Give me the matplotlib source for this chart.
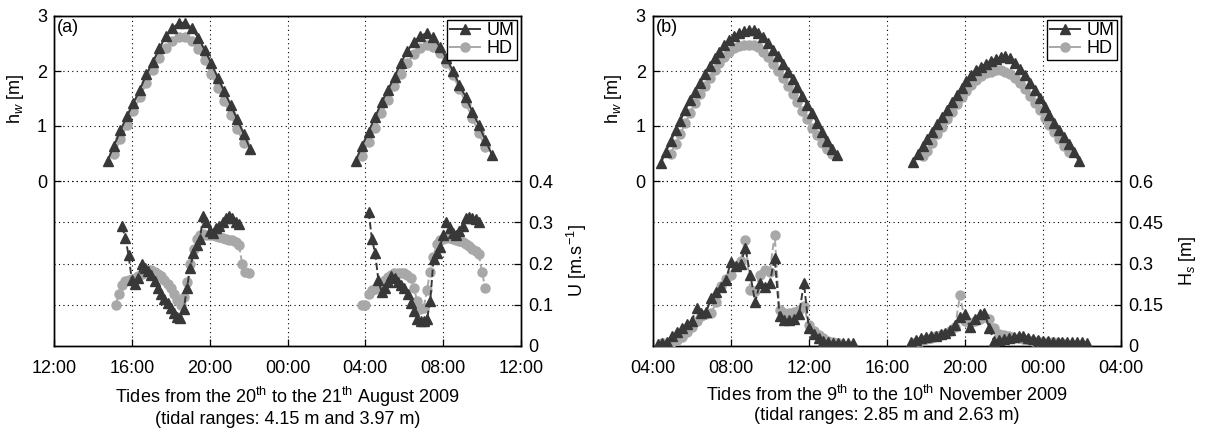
import numpy as np
import matplotlib
matplotlib.use("Agg")
import matplotlib.pyplot as plt

plt.rcParams['font.family'] = ['Liberation Sans', 'DejaVu Sans']
plt.rcParams['mathtext.fontset'] = 'custom'
plt.rcParams['mathtext.rm'] = 'Liberation Sans'
plt.rcParams['mathtext.it'] = 'Liberation Sans:italic'
plt.rcParams['font.size'] = 13

# ---------------- tick labels ----------------
tick_hours = [0, 4, 8, 12, 16, 20, 24]
ticklabels_a = ["12:00", "16:00", "20:00", "00:00", "04:00", "08:00", "12:00"]
ticklabels_b = ["04:00", "08:00", "12:00", "16:00", "20:00", "00:00", "04:00"]
right_ticks_a = [0, 0.1, 0.2, 0.3, 0.4]
right_labels_a = ["0", "0.1", "0.2", "0.3", "0.4"]
right_ticks_b = [0, 0.15, 0.3, 0.45, 0.6]
right_labels_b = ["0", "0.15", "0.3", "0.45", "0.6"]

# ---------------- panel (a): water level hw [m], 20-min samples ----------------
# (start hour after 12:00 on 20 Aug, sample interval in minutes)
a_um_hw1_start, a_hw_step = 2.75, 20
a_um_hw1 = [0.37, 0.64, 0.92, 1.18, 1.42, 1.66, 1.94, 2.17, 2.41, 2.64, 2.78, 2.87,
            2.88, 2.78, 2.60, 2.38, 2.14, 1.88, 1.63, 1.38, 1.12, 0.86, 0.58]
a_hd_hw1_start = 3.08
a_hd_hw1 = [0.50, 0.76, 1.02, 1.28, 1.53, 1.78, 2.02, 2.24, 2.41, 2.54, 2.61, 2.62,
            2.55, 2.40, 2.20, 1.95, 1.70, 1.45, 1.20, 0.95, 0.70]
a_um_hw2_start = 15.5
a_um_hw2 = [0.37, 0.64, 0.90, 1.16, 1.43, 1.66, 1.90, 2.15, 2.37, 2.53, 2.64, 2.69,
            2.61, 2.44, 2.23, 2.00, 1.75, 1.52, 1.26, 1.01, 0.75, 0.48]
a_hd_hw2_start = 15.83
a_hd_hw2 = [0.45, 0.71, 0.97, 1.23, 1.48, 1.72, 1.95, 2.15, 2.31, 2.42, 2.47, 2.44,
            2.33, 2.15, 1.93, 1.68, 1.42, 1.15, 0.88, 0.62]

# ---------------- panel (a): current velocity U [m/s], 10-min samples ----------------
a_u_step = 10
a_um_u1_start = 3.5
a_um_u1 = [0.290, 0.262, 0.220, 0.160, 0.150, 0.165, 0.200, 0.190, 0.182, 0.172,
           0.158, 0.140, 0.125, 0.115, 0.105, 0.092, 0.080, 0.070, 0.068, 0.090,
           0.140, 0.190, 0.225, 0.245, 0.260, 0.315, 0.300, 0.280, 0.275, 0.285,
           0.290, 0.300, 0.310, 0.315, 0.310, 0.300, 0.295]
a_hd_u1_start = 3.17
a_hd_u1 = [0.100, 0.125, 0.148, 0.158, 0.160, 0.162, 0.165, 0.170, 0.175, 0.180,
           0.185, 0.185, 0.180, 0.175, 0.170, 0.160, 0.150, 0.140, 0.125, 0.112,
           0.100, 0.120, 0.155, 0.200, 0.235, 0.260, 0.270, 0.272, 0.270, 0.268,
           0.268, 0.266, 0.265, 0.262, 0.260, 0.258, 0.256, 0.252, 0.245, 0.200,
           0.180, 0.178]
a_um_u2_start = 16.17
a_um_u2 = [0.325, 0.260, 0.225, 0.160, 0.130, 0.140, 0.155, 0.170, 0.165, 0.155,
           0.148, 0.140, 0.125, 0.105, 0.085, 0.065, 0.060, 0.060, 0.065, 0.110,
           0.210, 0.225, 0.240, 0.270, 0.300, 0.285, 0.275, 0.270, 0.280, 0.290,
           0.310, 0.312, 0.310, 0.308, 0.300]
a_hd_u2_start = 15.83
a_hd_u2 = [0.100, 0.100, 0.125, 0.135, 0.138, 0.140, 0.150, 0.160, 0.168, 0.172,
           0.176, 0.178, 0.178, 0.176, 0.172, 0.165, 0.140, 0.110, 0.090, 0.093,
           0.135, 0.180, 0.215, 0.248, 0.257, 0.260, 0.262, 0.262, 0.260, 0.258,
           0.255, 0.252, 0.248, 0.243, 0.236, 0.230, 0.222, 0.180, 0.140]

# ---------------- panel (b): water level hw [m], 15-min samples ----------------
b_step = 15
b_um_hw1_start = 0.42
b_um_hw1 = [0.33, 0.53, 0.72, 0.92, 1.10, 1.30, 1.47, 1.62, 1.78, 1.94, 2.09, 2.24,
            2.34, 2.47, 2.56, 2.63, 2.69, 2.72, 2.74, 2.74, 2.69, 2.61, 2.51, 2.39,
            2.27, 2.12, 1.99, 1.86, 1.71, 1.54, 1.39, 1.23, 1.06, 0.90, 0.72, 0.58,
            0.47]
b_hd_hw1_start = 0.92
b_hd_hw1 = [0.50, 0.68, 0.86, 1.05, 1.24, 1.42, 1.58, 1.73, 1.88, 2.02, 2.14, 2.25,
            2.34, 2.41, 2.45, 2.48, 2.48, 2.47, 2.43, 2.35, 2.25, 2.13, 2.00, 1.87,
            1.73, 1.58, 1.43, 1.27, 1.12, 0.97, 0.83, 0.70, 0.58, 0.50]
b_um_hw2_start = 13.33
b_um_hw2 = [0.34, 0.49, 0.63, 0.76, 0.89, 1.03, 1.16, 1.30, 1.43, 1.56, 1.70, 1.82,
            1.93, 2.02, 2.08, 2.13, 2.19, 2.22, 2.25, 2.27, 2.23, 2.14, 2.03, 1.92,
            1.79, 1.66, 1.51, 1.34, 1.20, 1.06, 0.92, 0.80, 0.68, 0.53, 0.37]
b_hd_hw2_start = 13.83
b_hd_hw2 = [0.45, 0.55, 0.70, 0.85, 0.99, 1.12, 1.26, 1.40, 1.52, 1.64, 1.75, 1.84,
            1.91, 1.96, 1.99, 2.01, 2.01, 1.99, 1.95, 1.88, 1.78, 1.67, 1.55, 1.42,
            1.29, 1.15, 1.02, 0.89, 0.76, 0.64, 0.52]

# ---------------- panel (b): significant wave height Hs [m], 15-min samples ----------------
b_um_hs1_start = 0.25
b_um_hs1 = [0.008, 0.012, 0.015, 0.035, 0.050, 0.065, 0.080, 0.090, 0.140, 0.120,
            0.125, 0.175, 0.195, 0.215, 0.240, 0.305, 0.290, 0.300, 0.355, 0.260,
            0.160, 0.230, 0.215, 0.230, 0.320, 0.110, 0.095, 0.095, 0.100, 0.115,
            0.230, 0.065, 0.045, 0.030, 0.020, 0.015, 0.012, 0.012, 0.012, 0.012,
            0.010]
b_hd_hs1_start = 0.5
b_hd_hs1 = [0.010, 0.012, 0.015, 0.022, 0.032, 0.050, 0.070, 0.090, 0.110, 0.115,
            0.120, 0.160, 0.220, 0.245, 0.260, 0.290, 0.310, 0.385, 0.205, 0.200,
            0.260, 0.275, 0.270, 0.405, 0.130, 0.120, 0.120, 0.125, 0.130, 0.145,
            0.075, 0.055, 0.040, 0.030, 0.020, 0.015, 0.010]
b_um_hs2_start = 13.25
b_um_hs2 = [0.015, 0.022, 0.028, 0.032, 0.035, 0.038, 0.042, 0.048, 0.058, 0.075,
            0.105, 0.115, 0.070, 0.100, 0.115, 0.120, 0.065, 0.018, 0.022, 0.026,
            0.030, 0.033, 0.037, 0.038, 0.030, 0.025, 0.022, 0.020, 0.018, 0.016,
            0.015, 0.015, 0.015, 0.015, 0.015, 0.015, 0.012]
b_hd_hs2_start = 13.5
b_hd_hs2 = [0.015, 0.020, 0.025, 0.030, 0.035, 0.040, 0.045, 0.055, 0.070, 0.185,
            0.090, 0.085, 0.090, 0.100, 0.105, 0.100, 0.065, 0.045, 0.040, 0.035,
            0.030, 0.028, 0.025, 0.022, 0.020, 0.018, 0.016, 0.015, 0.013, 0.012,
            0.010]

xlabel_a = ("Tides from the 20$^{\\mathrm{th}}$ to the 21$^{\\mathrm{th}}$ August 2009\n"
            "(tidal ranges: 4.15 m and 3.97 m)")
xlabel_b = ("Tides from the 9$^{\\mathrm{th}}$ to the 10$^{\\mathrm{th}}$ November 2009\n"
            "(tidal ranges: 2.85 m and 2.63 m)")

UM_COLOR = '#383838'
HD_COLOR = '#a8a8a8'


def sample_times(start, step_min, n):
    return start + np.arange(n) * step_min / 60.0


def um(ax, t, v, ls='-'):
    return ax.plot(t, v, ls, color=UM_COLOR, marker='^', markersize=7.5, lw=1.4,
                   markeredgecolor=UM_COLOR, zorder=4)[0]


def hd(ax, t, v, ls='-'):
    return ax.plot(t, v, ls, color=HD_COLOR, marker='o', markersize=6.5, lw=1.4,
                   markeredgecolor=HD_COLOR, zorder=3)[0]


fig = plt.figure(figsize=(12.06, 4.32), dpi=100)

W, H = 1206.0, 432.0
ax_a = fig.add_axes([54 / W, 1 - 346 / H, 467 / W, 330 / H])
ax_b = fig.add_axes([652.7 / W, 1 - 346 / H, 468.3 / W, 330 / H])

panels = [
    dict(ax=ax_a, label='(a)', xt=ticklabels_a, rt=right_ticks_a, rl=right_labels_a,
         rlim=(0, 0.8), rname='U [m.s$^{-1}$]', rx=1.12, xlabel=xlabel_a,
         hw=[(a_um_hw1_start, a_hw_step, a_um_hw1, 'um'), (a_hd_hw1_start, a_hw_step, a_hd_hw1, 'hd'),
             (a_um_hw2_start, a_hw_step, a_um_hw2, 'um'), (a_hd_hw2_start, a_hw_step, a_hd_hw2, 'hd')],
         low=[(a_hd_u1_start, a_u_step, a_hd_u1, 'hd'), (a_um_u1_start, a_u_step, a_um_u1, 'um'),
              (a_hd_u2_start, a_u_step, a_hd_u2, 'hd'), (a_um_u2_start, a_u_step, a_um_u2, 'um')]),
    dict(ax=ax_b, label='(b)', xt=ticklabels_b, rt=right_ticks_b, rl=right_labels_b,
         rlim=(0, 1.2), rname='H$_s$ [m]', rx=1.143, xlabel=xlabel_b,
         hw=[(b_um_hw1_start, b_step, b_um_hw1, 'um'), (b_hd_hw1_start, b_step, b_hd_hw1, 'hd'),
             (b_um_hw2_start, b_step, b_um_hw2, 'um'), (b_hd_hw2_start, b_step, b_hd_hw2, 'hd')],
         low=[(b_hd_hs1_start, b_step, b_hd_hs1, 'hd'), (b_um_hs1_start, b_step, b_um_hs1, 'um'),
              (b_hd_hs2_start, b_step, b_hd_hs2, 'hd'), (b_um_hs2_start, b_step, b_um_hs2, 'um')]),
]

for p in panels:
    ax = p['ax']
    ax2 = ax.twinx()
    handles = {}
    for start, step, vals, kind in p['hw']:
        t = sample_times(start, step, len(vals))
        if kind == 'um':
            handles['UM'] = um(ax, t, vals)
        else:
            handles['HD'] = hd(ax, t, vals)
    for start, step, vals, kind in p['low']:
        t = sample_times(start, step, len(vals))
        if kind == 'um':
            um(ax2, t, vals, '--')
        else:
            hd(ax2, t, vals, '--')

    ax.set_xlim(0, 24)
    ax.set_xticks(tick_hours)
    ax.set_xticklabels(p['xt'])
    ax.set_ylim(-3, 3)
    ax.set_yticks([0, 1, 2, 3])
    ax.set_yticklabels(["0", "1", "2", "3"])
    ax2.set_ylim(*p['rlim'])
    ax2.set_yticks(p['rt'])
    ax2.set_yticklabels(p['rl'])

    for a in (ax, ax2):
        a.tick_params(direction='in', length=5, width=0.9, labelsize=13, pad=5, colors='black')
        for s in a.spines.values():
            s.set_linewidth(1.0)
            s.set_color('black')
    ax.tick_params(axis='x', pad=10)

    ax.grid(True, axis='both', linestyle=(0, (1, 3)), color='black', linewidth=0.8)
    ax2.grid(True, axis='y', linestyle=(0, (1, 3)), color='black', linewidth=0.8)
    ax.set_axisbelow(True)

    ax.text(-0.083, 0.75, 'h$_w$ [m]', rotation=90, transform=ax.transAxes,
            ha='center', va='center', fontsize=13)
    ax.text(p['rx'], 0.26, p['rname'], rotation=90, transform=ax.transAxes,
            ha='center', va='center', fontsize=13)
    ax.text(0.006, 0.99, p['label'], transform=ax.transAxes, ha='left', va='top',
            fontsize=13)
    ax.set_xlabel(p['xlabel'], fontsize=13, labelpad=6, linespacing=1.15)

    leg = ax2.legend([handles['UM'], handles['HD']], ['UM', 'HD'], loc='upper right',
                     fancybox=False, edgecolor='black', framealpha=1, fontsize=13,
                     borderpad=0.15, handlelength=1.7, handletextpad=0.35,
                     borderaxespad=0.2, labelspacing=0.05)
    leg.get_frame().set_linewidth(1.0)

fig.savefig('out.png', dpi=100)
